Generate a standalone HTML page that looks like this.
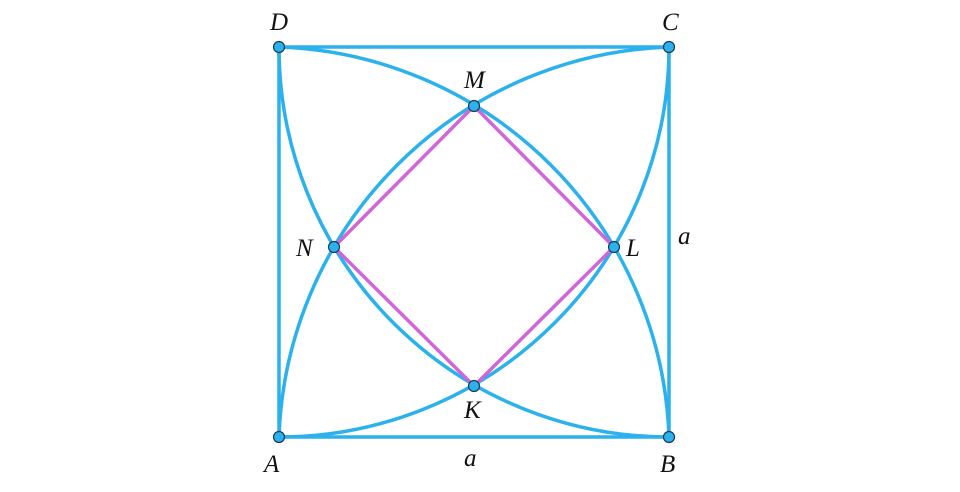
<!DOCTYPE html>
<html><head><meta charset="utf-8"><style>
html,body{margin:0;padding:0;background:#fff;}
svg{display:block}
text{font-family:"Liberation Serif",serif;font-style:italic;font-size:25px;fill:#111}
</style></head><body>
<svg width="960" height="492" viewBox="0 0 960 492" xmlns="http://www.w3.org/2000/svg">
<g fill="none" stroke="#2bb1ec" stroke-width="3.5">
<rect x="279" y="47" width="390" height="390"/>
<path d="M669,437 A404,404 0 0 0 279,47"/>
<path d="M279,437 A404,404 0 0 1 669,47"/>
<path d="M669,437 A390,390 0 0 1 279,47"/>
<path d="M279,437 A390,390 0 0 0 669,47"/>
</g>
<polygon points="474,106 614,247 474,386 334,247" fill="none" stroke="#d066d8" stroke-width="3.5"/>
<g fill="#2bb1ec" stroke="#1a3a55" stroke-width="1.2">
<circle cx="279" cy="437" r="5.5"/><circle cx="669" cy="437" r="5.5"/>
<circle cx="669" cy="47" r="5.5"/><circle cx="279" cy="47" r="5.5"/>
<circle cx="474" cy="106" r="5.5"/><circle cx="614" cy="247" r="5.5"/>
<circle cx="474" cy="386" r="5.5"/><circle cx="334" cy="247" r="5.5"/>
</g>
<text x="270" y="30">D</text>
<text x="662" y="30">C</text>
<text x="464" y="88">M</text>
<text x="296" y="256">N</text>
<text x="626" y="256">L</text>
<text x="678" y="244">a</text>
<text x="464" y="418">K</text>
<text x="264" y="472">A</text>
<text x="464" y="466">a</text>
<text x="660" y="472">B</text>
</svg>
</body></html>
